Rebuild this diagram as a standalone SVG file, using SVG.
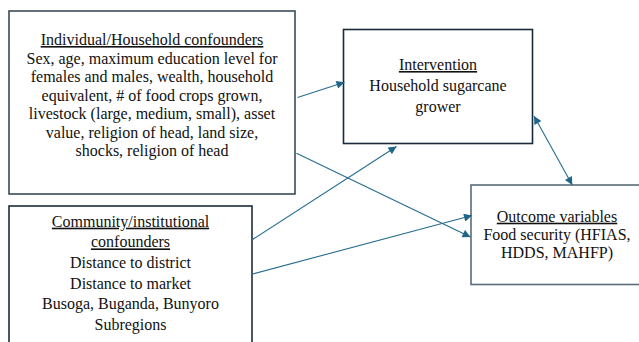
<svg xmlns="http://www.w3.org/2000/svg" width="639" height="342" viewBox="0 0 639 342">
<defs>
<style>
.box{fill:#ffffff;stroke-width:1.6}
.t{font-family:"Liberation Serif","Times New Roman",serif;font-size:16px;fill:#111111;text-anchor:middle}
.u{text-decoration:underline}
.c{fill:none;stroke:#266d8f;stroke-width:1.1}
</style>
<marker id="ah" viewBox="0 0 10 10" refX="10" refY="5" markerWidth="10" markerHeight="8" markerUnits="userSpaceOnUse" orient="auto-start-reverse">
<path d="M0,0 L10,5 L0,10 Z" fill="#1e6587"/>
</marker>
</defs>
<rect width="639" height="342" fill="#ffffff"/>
<g id="individual">
<rect class="box" x="9" y="11" width="286" height="183" stroke="#3a4b59"/>
<text class="t u" x="152" y="45">Individual/Household confounders</text>
<text class="t" x="152" y="63.5">Sex, age, maximum education level for</text>
<text class="t" x="152" y="82">females and males, wealth, household</text>
<text class="t" x="152" y="100.5">equivalent, # of food crops grown,</text>
<text class="t" x="152" y="119">livestock (large, medium, small), asset</text>
<text class="t" x="152" y="137.5">value, religion of head, land size,</text>
<text class="t" x="152" y="156">shocks, religion of head</text>
</g>
<g id="community">
<rect class="box" x="9" y="206" width="243" height="145" stroke="#1c2d3d"/>
<text class="t u" x="130.5" y="226.7">Community/institutional</text>
<text class="t u" x="130.5" y="247.4">confounders</text>
<text class="t" x="130.5" y="268">Distance to district</text>
<text class="t" x="130.5" y="288.7">Distance to market</text>
<text class="t" x="130.5" y="309.3">Busoga, Buganda, Bunyoro</text>
<text class="t" x="130.5" y="330">Subregions</text>
</g>
<g id="intervention">
<rect class="box" x="343.5" y="29.5" width="189" height="114" stroke="#1a2a3a"/>
<text class="t u" x="438" y="70">Intervention</text>
<text class="t" x="438" y="90.8">Household sugarcane</text>
<text class="t" x="438" y="111.6">grower</text>
</g>
<g id="outcome">
<rect class="box" x="471" y="185" width="180" height="99.5" stroke="#5a6c79" stroke-width="2"/>
<text class="t u" x="557" y="221.7">Outcome variables</text>
<text class="t" x="557" y="240">Food security (HFIAS,</text>
<text class="t" x="557" y="258.3">HDDS, MAHFP)</text>
</g>
<g id="connectors">
<line class="c" x1="297.5" y1="97.5" x2="344.5" y2="82.3" marker-end="url(#ah)"/>
<line class="c" x1="296.5" y1="153.3" x2="470.5" y2="237" marker-end="url(#ah)"/>
<line class="c" x1="252.5" y1="239.5" x2="396.5" y2="146.5" marker-end="url(#ah)"/>
<line class="c" x1="252.5" y1="274" x2="472" y2="215.5" marker-end="url(#ah)"/>
<line class="c" x1="534" y1="116" x2="572.3" y2="185" marker-start="url(#ah)" marker-end="url(#ah)"/>
</g>
</svg>
